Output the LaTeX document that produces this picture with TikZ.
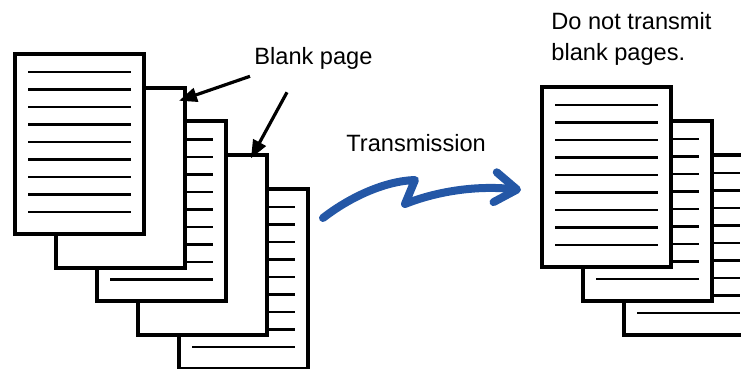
\documentclass[tikz,border=0pt]{standalone}
\usepackage{fontspec}
\setmainfont{Liberation Sans}
\usetikzlibrary{arrows.meta,positioning}
\definecolor{sendblue}{HTML}{2457A6}

% nine text lines on a sheet
\newcommand\ruled[1]{%
  \foreach \k in {0,...,8}
    \draw[textline] ([xshift=7.5pt,yshift=-10pt-\k*8.75pt]#1.north west)
      -- ([xshift=-7.5pt,yshift=-10pt-\k*8.75pt]#1.north east);}

\begin{document}
\begin{tikzpicture}[
  x=0.5pt,y=-0.5pt,
  sheet/.style={draw,line width=2pt,fill=white,anchor=north west,inner sep=0pt,
    minimum width=64.5pt,minimum height=90pt},
  textline/.style={line width=1.1pt},
  pointer/.style={line width=1.6pt,-{Triangle[length=9pt,width=7pt]}},
  every node/.style={font=\fontsize{11.8}{15.5}\selectfont}
]
  \clip (0,0) rectangle (741,369);

  % original stack, back to front
  \node[sheet] (p5) at (177,187) {};
  \ruled{p5}
  \node[sheet] (p4) at ([shift={(-41,-33.75)}]p5.north west) {};
  \node[sheet] (p3) at ([shift={(-41,-33.75)}]p4.north west) {};
  \ruled{p3}
  \node[sheet] (p2) at ([shift={(-41,-33.75)}]p3.north west) {};
  \node[sheet] (p1) at ([shift={(-41,-33.75)}]p2.north west) {};
  \ruled{p1}

  % sent stack
  \node[sheet] (r3) at (622,153) {};
  \ruled{r3}
  \node[sheet] (r2) at ([shift={(-41,-34)}]r3.north west) {};
  \ruled{r2}
  \node[sheet] (r1) at ([shift={(-41,-34)}]r2.north west) {};
  \ruled{r1}

  % labels
  \node[anchor=base west,inner sep=0pt] (blank) at (254,65) {Blank page};
  \node[anchor=base west,inner sep=0pt] (trans) at (346,152) {Transmission};
  \node[anchor=north west,inner sep=0pt,align=left] (note) at (551,12)
    {Do not transmit\\blank pages.};

  \coordinate (a1) at ([shift={(-4,6)}]blank.south west);
  \coordinate (a2) at ([shift={(33,22)}]blank.south west);
  \coordinate (t1) at ([shift={(-8,15)}]p2.north east);
  \coordinate (t2) at ([shift={(-18,5)}]p4.north east);
  \draw[pointer] (a1) -- (t1);
  \draw[pointer] (a2) -- (t2);

  % transmission arrow
  \coordinate (s0) at (323,218);
  \coordinate (s1) at (521,190);
  \draw[sendblue,line width=4pt,line cap=round,line join=round,
    -{Straight Barb[length=11pt,width=15pt,round]}]
    (s0) .. controls (350,197) and (385,181) .. (415,180)
    -- (405,204) .. controls (435,192) and (475,185) .. (s1);
\end{tikzpicture}
\end{document}
